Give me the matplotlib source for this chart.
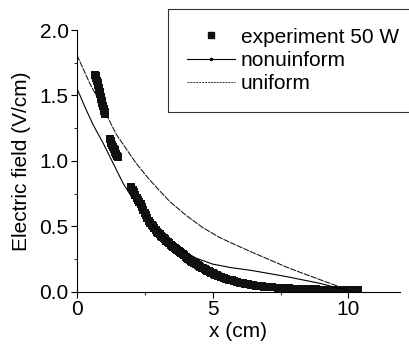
import matplotlib
matplotlib.use('Agg')
import matplotlib.pyplot as plt
from matplotlib.lines import Line2D

plt.rcParams['font.family'] = ['Liberation Sans', 'DejaVu Sans']

exp_x = [0.68, 0.70, 0.72, 0.74, 0.76, 0.78, 0.80, 0.82, 0.84, 0.86, 0.88,
         0.90, 0.92, 0.94, 0.96, 0.98, 1.00, 1.02, 1.04,
         1.21, 1.24, 1.27, 1.30, 1.33, 1.36, 1.39, 1.42, 1.45, 1.48, 1.52,
         2.00, 2.05, 2.10, 2.15, 2.20, 2.25, 2.30, 2.35, 2.40,
         2.45, 2.50, 2.55, 2.60, 2.65, 2.70, 2.75, 2.80, 2.85, 2.90,
         2.95, 3.00, 3.05, 3.10, 3.15, 3.20, 3.25, 3.30, 3.35, 3.40,
         3.45, 3.50, 3.55, 3.60, 3.65, 3.70, 3.75, 3.80, 3.85, 3.90,
         3.95, 4.00, 4.05, 4.10, 4.15, 4.20, 4.25, 4.30, 4.35, 4.40,
         4.45, 4.50, 4.55, 4.60, 4.65, 4.70, 4.75, 4.80, 4.85, 4.90,
         4.95, 5.00, 5.05, 5.10, 5.15, 5.20, 5.30, 5.40, 5.50, 5.60,
         5.70, 5.80, 5.90, 6.00, 6.10, 6.20, 6.30, 6.40, 6.50, 6.60,
         6.70, 6.80, 6.90, 7.00, 7.20, 7.40, 7.60, 7.80, 8.00, 8.20,
         8.40, 8.60, 8.80, 9.00, 9.20, 9.40, 9.60, 9.80, 10.00, 10.20, 10.35]
exp_y = [1.66, 1.645, 1.63, 1.61, 1.595, 1.58, 1.56, 1.545, 1.525, 1.51, 1.49,
         1.475, 1.455, 1.44, 1.42, 1.40, 1.385, 1.37, 1.355,
         1.17, 1.155, 1.14, 1.125, 1.11, 1.095, 1.08, 1.065, 1.05, 1.04, 1.03,
         0.80, 0.78, 0.76, 0.74, 0.72, 0.705, 0.69, 0.67, 0.65,
         0.625, 0.605, 0.585, 0.565, 0.545, 0.525, 0.51, 0.50, 0.485, 0.47,
         0.46, 0.45, 0.44, 0.43, 0.42, 0.41, 0.40, 0.39, 0.38, 0.37,
         0.36, 0.35, 0.34, 0.333, 0.325, 0.317, 0.31, 0.302, 0.294, 0.286,
         0.278, 0.27, 0.262, 0.254, 0.246, 0.238, 0.231, 0.224, 0.217, 0.21,
         0.204, 0.198, 0.192, 0.186, 0.18, 0.174, 0.168, 0.162, 0.157, 0.152,
         0.147, 0.142, 0.137, 0.132, 0.128, 0.124, 0.116, 0.108, 0.10, 0.093,
         0.087, 0.081, 0.075, 0.07, 0.065, 0.061, 0.057, 0.053, 0.05, 0.047,
         0.044, 0.042, 0.04, 0.038, 0.034, 0.031, 0.028, 0.026, 0.024, 0.022,
         0.021, 0.02, 0.019, 0.018, 0.017, 0.016, 0.016, 0.015, 0.015, 0.015, 0.014]

# nonuniform model
nonu_x = [0.0, 0.3, 0.6, 0.97, 1.34, 1.7, 2.0, 2.3, 2.56, 2.9, 3.29, 3.66, 4.02,
          4.4, 5.0, 5.26, 5.62, 6.48, 7.71, 8.93, 9.79, 10.2]
nonu_y = [1.555, 1.41, 1.275, 1.135, 0.98, 0.83, 0.73, 0.65, 0.575, 0.49, 0.41, 0.35, 0.30,
          0.257, 0.212, 0.202, 0.187, 0.162, 0.117, 0.066, 0.02, 0.0]

# uniform model
uni_x = [0.0, 0.48, 0.97, 1.46, 2.19, 2.6, 2.99, 3.42, 4.02, 4.64, 5.26,
         5.62, 6.48, 7.1, 7.71, 8.3, 8.93, 9.79, 10.16]
uni_y = [1.81, 1.59, 1.40, 1.20, 0.98, 0.875, 0.785, 0.69, 0.585, 0.49, 0.415,
         0.38, 0.30, 0.245, 0.19, 0.143, 0.095, 0.03, 0.0]

fig = plt.figure(figsize=(4.09, 3.45), dpi=100)
ax = fig.add_axes([0.188, 0.154, 0.79, 0.759])

ax.plot(exp_x, exp_y, 's', color='#111111', markersize=5.8, markeredgewidth=0)
ax.plot(nonu_x, nonu_y, '-', color='black', lw=0.8)
ax.plot(uni_x, uni_y, linestyle=(0, (6, 1)), color='#111111', lw=0.75)

ax.set_xlim(0, 11.9)
ax.set_ylim(0, 2.0)
ax.set_xticks([0, 5, 10])
ax.set_xticks([2.5, 7.5], minor=True)
ax.set_yticks([0.0, 0.5, 1.0, 1.5, 2.0])
ax.set_yticks([0.25, 0.75, 1.25, 1.75], minor=True)
ax.yaxis.set_major_formatter(plt.FormatStrFormatter('%.1f'))
ax.tick_params(which='major', direction='out', length=4, labelsize=15, pad=2)
ax.tick_params(which='minor', direction='out', length=2.5)
ax.spines['top'].set_visible(False)
ax.spines['right'].set_visible(False)

ax.set_xlabel('x (cm)', fontsize=15, labelpad=2)
ax.set_ylabel('Electric field (V/cm)', fontsize=15, labelpad=6)

handles = [
    Line2D([], [], linestyle='none', marker='s', color='#111111', markersize=5),
    Line2D([], [], linestyle='-', marker='.', markersize=3, color='black', lw=0.8),
    Line2D([], [], linestyle=(0, (2, 1)), color='#333333', lw=0.7),
]
labels = ['experiment 50 W', 'nonuinform', 'uniform']
leg = fig.legend(handles, labels, loc='upper left',
                 bbox_to_anchor=(168 / 409, 1 - 9 / 345),
                 fontsize=15, frameon=True, fancybox=False, edgecolor='black',
                 handlelength=2.3, handletextpad=0.3, borderpad=0.9,
                 labelspacing=0.2, borderaxespad=0)
leg.get_frame().set_linewidth(0.8)

fig.savefig('out.png', dpi=100)
